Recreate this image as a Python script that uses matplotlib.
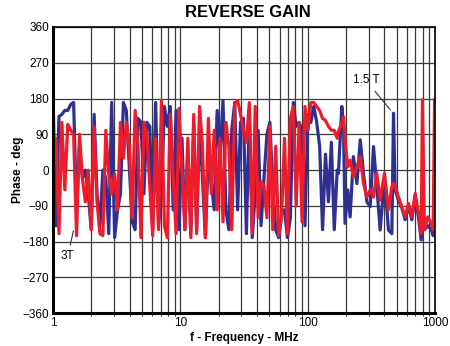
import numpy as np
import matplotlib
matplotlib.use('Agg')
import matplotlib.pyplot as plt

plt.rcParams['font.family']=['Liberation Sans','DejaVu Sans']

# frequency points (MHz)
freq=[1.00,1.054,1.112,1.172,1.236,1.303,1.374,1.449,1.528,1.611,
      1.698,1.791,1.888,1.991,2.099,2.213,2.333,2.460,2.594,2.735,
      2.884,3.041,3.206,3.381,3.565,3.758,3.963,4.178,4.406,4.645,
      4.898,5.164,5.445,5.741,6.053,6.383,6.730,7.096,7.482,7.889,
      8.318,8.770,9.247,9.750,10.28,10.84,11.43,12.05,12.71,13.40,
      14.13,14.89,15.70,16.56,17.46,18.41,19.41,20.46,21.58,22.75,
      23.99,25.29,26.67,28.12,29.65,31.26,32.96,34.75,36.64,38.64,
      40.74,42.95,45.29,47.75,50.35,53.09,55.98,59.02,62.23,65.61,
      69.18,72.94,76.91,81.10,85.51,90.16,95.06,100.2,105.7,111.4,
      117.5,123.9,130.6,137.7,145.2,153.1,161.4,170.2,
      174,185,191,196,206,215,228,243,258,274,
      291,309,328,348,370,400,430,457,471,485,
      515,547,581,617,656,697,740,777,795,824,
      876,930,965,990]

# phase (deg), 1.5 turn winding
phase_15t=[175,-140,135,140,150,150,165,170,-100,60,
           -20,0,-60,-150,140,-60,-140,0,-20,-160,
           170,-170,-100,-60,170,150,10,-130,-150,130,
           120,-60,120,110,-150,170,-140,-60,160,110,
           160,-100,150,-150,80,-150,60,-160,120,-150,
           110,-20,-170,40,-30,-100,150,40,175,-100,
           -150,100,170,-100,120,130,-160,150,-170,-60,
           100,-140,-20,90,120,-40,-150,-170,-110,-100,
           -170,-120,170,110,120,100,-140,140,120,160,
           120,60,-150,40,-80,70,-150,0,
           -8,160,100,-134,-50,-118,34,-34,76,-10,
           -80,-92,59,-40,-151,-20,-151,-160,143,-50,
           -76,-95,-125,-90,-125,-65,-120,-176,-134,-150,
           -140,-150,-165,-100]

# phase (deg), 3 turn winding
phase_3t=[30,80,-160,120,-50,115,100,90,-165,90,
          -20,-80,0,-150,110,-80,-160,-165,100,-10,
          -60,-10,-100,120,30,120,60,-120,150,60,
          -170,120,90,-40,-165,80,-150,175,-140,-170,
          140,-20,-160,155,0,-150,80,-170,140,-160,
          160,60,-170,130,-60,100,-100,80,-130,120,
          60,-150,165,175,140,100,70,170,-160,160,
          -120,-30,-40,-120,110,-150,60,-165,-120,80,
          -160,130,160,-90,120,-130,160,100,170,170,
          160,150,130,125,110,100,100,80,
          97,118,134,76,8,25,-17,8,34,-34,
          -68,-50,-68,-8,-76,-8,-100,-42,-34,-40,
          -68,-92,-118,-84,-118,-59,-110,-160,177,-150,
          -118,-134,-150,177]

fig=plt.figure(figsize=(4.5,3.46),dpi=100)
ax=fig.add_axes([0.118,0.095,0.849,0.827])

ax.plot(freq,phase_15t,color='#2e3192',lw=2.3)
ax.plot(freq,phase_3t,color='#ec1c2a',lw=2.3)

ax.set_xscale('log')
ax.set_xlim(1,1000)
ax.set_ylim(-360,360)
ax.set_yticks(np.arange(-360,361,90))
ax.set_xticks([1,10,100,1000])
ax.set_xticklabels(['1','10','100','1000'])
ax.grid(True,which='both',color='#3a3a3a',lw=0.9)
ax.tick_params(length=0,labelsize=8.5,pad=3)

for s in ['bottom','left']:
    ax.spines[s].set_linewidth(2.2)
for s in ['top','right']:
    ax.spines[s].set_linewidth(1.2)

ax.set_title('REVERSE GAIN',fontsize=12,fontweight='bold',pad=7,x=0.51)
ax.set_xlabel('f - Frequency - MHz',fontsize=8.5,fontweight='bold',labelpad=2)
ax.set_ylabel('Phase - deg',fontsize=8.5,fontweight='bold',labelpad=-1)

ax.annotate('1.5 T',xy=(460,146),xytext=(225,218),fontsize=8.5,
            arrowprops=dict(arrowstyle='-',color='#333333',lw=0.8))
ax.annotate('3T',xy=(1.46,-146),xytext=(1.15,-225),fontsize=8.5,
            arrowprops=dict(arrowstyle='-',color='#333333',lw=0.8))

fig.savefig('out.png',dpi=100)
